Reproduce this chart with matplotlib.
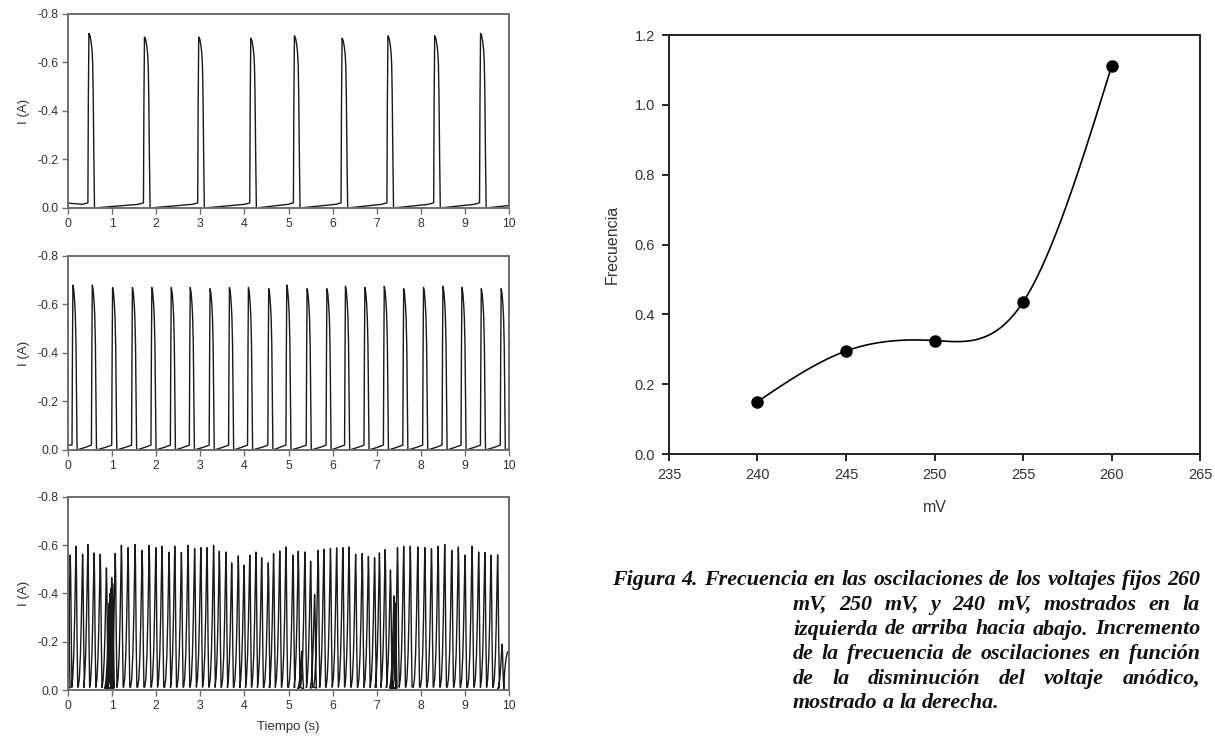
import numpy as np
import matplotlib
matplotlib.use('Agg')
from matplotlib import pyplot as plt

plt.rcParams['font.family'] = ['Liberation Sans', 'DejaVu Sans']
plt.rcParams['axes.unicode_minus'] = False

# ---- panel 1: onset time of each current spike (s) and its peak (A)
p1_onset = [0.45, 1.71, 2.94, 4.12, 5.11, 6.19, 7.23, 8.29, 9.33]
p1_peak = [-0.72, -0.705, -0.705, -0.70, -0.71, -0.70, -0.71, -0.71, -0.72]

# ---- panel 2
p2_onset = [0.09, 0.53, 0.99, 1.44, 1.88, 2.32, 2.75, 3.20, 3.64, 4.07, 4.53, 4.94,
            5.40, 5.85, 6.27, 6.71, 7.15, 7.59, 8.04, 8.48, 8.91, 9.35, 9.80]
p2_peak = [-0.68, -0.68, -0.67, -0.67, -0.67, -0.67, -0.67, -0.665, -0.67, -0.67, -0.665, -0.68,
           -0.665, -0.665, -0.675, -0.67, -0.675, -0.665, -0.67, -0.675, -0.67, -0.665, -0.665]

# ---- panel 3: time of each peak (s) and its value (A)
p3_time = [0.005, 0.05, 0.18, 0.33, 0.45, 0.59, 0.73, 0.87, 0.93, 0.95, 0.97, 0.99, 1.01,
           1.07, 1.21, 1.36, 1.52, 1.68, 1.84, 1.99, 2.13, 2.29,
           2.42, 2.57, 2.72, 2.87, 3.01, 3.15, 3.30, 3.43, 3.58, 3.71, 3.86, 3.99,
           4.12, 4.26, 4.39, 4.54, 4.66, 4.80, 4.94, 5.10, 5.22, 5.30, 5.37, 5.50,
           5.59, 5.67, 5.80, 5.95, 6.09, 6.23, 6.37, 6.52, 6.67, 6.81, 6.95,
           7.06, 7.19, 7.31, 7.39, 7.42, 7.47, 7.61, 7.76, 7.93, 8.09, 8.24,
           8.39, 8.54, 8.70, 8.85, 9.00, 9.16, 9.31, 9.45, 9.59, 9.74, 9.84]
p3_peak = [-0.44, -0.559, -0.596, -0.563, -0.603, -0.568, -0.563, -0.506, -0.36, -0.40, -0.42, -0.466, -0.44,
           -0.566, -0.600, -0.590, -0.603, -0.579, -0.600, -0.590, -0.596, -0.571,
           -0.596, -0.570, -0.600, -0.586, -0.590, -0.590, -0.600, -0.575, -0.572, -0.527, -0.556, -0.517,
           -0.559, -0.572, -0.548, -0.527, -0.565, -0.576, -0.593, -0.559, -0.575, -0.16, -0.572, -0.534,
           -0.396, -0.579, -0.583, -0.586, -0.589, -0.590, -0.593, -0.563, -0.566, -0.554, -0.548,
           -0.568, -0.582, -0.497, -0.39, -0.36, -0.590, -0.596, -0.596, -0.593, -0.590, -0.586,
           -0.596, -0.603, -0.579, -0.593, -0.559, -0.596, -0.572, -0.570, -0.559, -0.56, -0.19]
p3_tail_t = [9.88, 9.90, 9.93, 9.96, 10.0]
p3_tail_i = [-0.01, -0.08, -0.13, -0.155, -0.165]

# ---- frequency vs anodic voltage
volt = [240, 245, 250, 255, 260]
freq = [0.15, 0.295, 0.325, 0.435, 1.11]

caption = [
    'Figura 4. Frecuencia en las oscilaciones de los voltajes fijos 260',
    'mV, 250 mV, y 240 mV, mostrados en la',
    'izquierda de arriba hacia abajo. Incremento',
    'de la frecuencia de oscilaciones en función',
    'de la disminución del voltaje anódico,',
    'mostrado a la derecha.',
]

# spike shapes (time after onset, fraction of the peak)
shape1_t = np.array([0, 0.01, 0.023, 0.05, 0.076, 0.095, 0.108, 0.12, 0.135, 0.15])
shape1_f = np.array([0.03, 0.6, 1.0, 0.985, 0.945, 0.9, 0.83, 0.66, 0.3, 0.0])
shape2_t = np.array([0, 0.01, 0.02, 0.04, 0.06, 0.075, 0.09, 0.105, 0.115])
shape2_f = np.array([0.03, 0.6, 1.0, 0.97, 0.9, 0.82, 0.65, 0.25, 0.0])
shape3_t = np.array([-0.1, -0.075, -0.05, -0.03, -0.012, 0.0, 0.01, 0.025, 0.04])
shape3_f = np.array([0.02, 0.08, 0.25, 0.5, 0.82, 1.0, 0.85, 0.35, 0.02])


def relax_trace(onsets, peaks, sh_t, sh_f, start, creep, end):
    ts, ys = [0.0], [start]
    for on, pk in zip(onsets, peaks):
        if on - 0.12 > ts[-1]:
            ts += [on - 0.12]
            ys += [creep * 0.6]
        ts += list(on + sh_t)
        ys += list(pk * sh_f)
    ts.append(10.0)
    ys.append(end)
    return np.array(ts), np.array(ys)


def pulse_trace(times, peaks, sh_t, sh_f):
    ts, ys = [], []
    for tp, pk in zip(times, peaks):
        ts += list(tp + sh_t)
        ys += list(pk * sh_f)
    return np.array(ts), np.array(ys)


def natural_spline(x, y, n=300):
    x = np.asarray(x, float)
    y = np.asarray(y, float)
    h = np.diff(x)
    m = len(x)
    A = np.zeros((m, m))
    b = np.zeros(m)
    A[0, 0] = A[-1, -1] = 1
    for i in range(1, m - 1):
        A[i, i - 1] = h[i - 1]
        A[i, i] = 2 * (h[i - 1] + h[i])
        A[i, i + 1] = h[i]
        b[i] = 6 * ((y[i + 1] - y[i]) / h[i] - (y[i] - y[i - 1]) / h[i - 1])
    M = np.linalg.solve(A, b)
    xs = np.linspace(x[0], x[-1], n)
    k = np.clip(np.searchsorted(x, xs) - 1, 0, m - 2)
    dx1 = x[k + 1] - xs
    dx0 = xs - x[k]
    hk = h[k]
    ys = (M[k] * dx1 ** 3 + M[k + 1] * dx0 ** 3) / (6 * hk) \
        + (y[k] / hk - M[k] * hk / 6) * dx1 + (y[k + 1] / hk - M[k + 1] * hk / 6) * dx0
    return xs, ys


fig = plt.figure(figsize=(12.15, 7.47), dpi=100)

spine_grey = '#6e6e6e'
trace_col = '#1a1a1a'
boxes = [[0.0560, 0.7216, 0.3630, 0.2597],
         [0.0560, 0.3976, 0.3630, 0.2597],
         [0.0560, 0.0763, 0.3630, 0.2584]]

traces = [
    relax_trace(p1_onset, p1_peak, shape1_t, shape1_f, -0.02, -0.025, -0.01),
    relax_trace(p2_onset, p2_peak, shape2_t, shape2_f, -0.02, -0.02, -0.005),
]
t3, i3 = pulse_trace(p3_time, p3_peak, shape3_t, shape3_f)
traces.append((np.concatenate([t3, p3_tail_t]), np.concatenate([i3, p3_tail_i])))

for idx, (box, (tt, ii)) in enumerate(zip(boxes, traces)):
    ax = fig.add_axes(box)
    ax.plot(tt, ii, color=trace_col, lw=1.0)
    ax.set_xlim(0, 10)
    ax.set_ylim(0.0, -0.8)
    ax.set_xticks(range(0, 11))
    ax.set_yticks([0.0, -0.2, -0.4, -0.6, -0.8])
    ax.set_yticklabels(['0.0', '-0.2', '-0.4', '-0.6', '-0.8'])
    ax.tick_params(direction='out', length=4, width=1.0, color=spine_grey,
                   labelsize=8.8, labelcolor='#333333', pad=3)
    for s in ax.spines.values():
        s.set_color(spine_grey)
        s.set_linewidth(1.4)
    ax.set_ylabel('I (A)', fontsize=9.5, color='#333333', labelpad=5)
    if idx == 2:
        ax.set_xlabel('Tiempo (s)', fontsize=9.5, color='#333333', labelpad=7)

# frequency panel
ax = fig.add_axes([0.5506, 0.3922, 0.4371, 0.5609])
xs, ys = natural_spline(volt, freq)
ax.plot(xs, ys, color='black', lw=1.2)
ax.plot(volt, freq, 'o', color='black', ms=8)
ax.set_xlim(235, 265)
ax.set_ylim(0, 1.2)
ax.set_xticks(range(235, 266, 5))
ax.set_yticks(np.arange(0, 1.21, 0.2))
ax.set_yticklabels([f'{v:.1f}' for v in np.arange(0, 1.21, 0.2)])
ax.tick_params(direction='out', length=5, width=1.2, labelsize=10.5,
               labelcolor='#333333', pad=5)
for s in ax.spines.values():
    s.set_color('#222222')
    s.set_linewidth(1.4)
ax.set_xlabel('mV', fontsize=11.5, color='#333333', labelpad=13)
ax.set_ylabel('Frecuencia', fontsize=11.5, color='#333333', labelpad=11)

# justified caption
W, H = 1215, 747
cap_font = dict(family='Liberation Serif', weight='bold', style='italic', size=15.8, color='#111111')
baselines = [585, 610, 634.5, 659, 684, 708.5]
left_edges = [612, 793, 793, 793, 793, 793]
right_edge = 1200
renderer = fig.canvas.get_renderer()
for line, yb, xl in zip(caption, baselines, left_edges):
    words = line.split(' ')
    objs = [fig.text(0, 1 - yb / H, w, va='baseline', ha='left', **cap_font) for w in words]
    widths = [o.get_window_extent(renderer).width for o in objs]
    if line is caption[-1]:
        sp = fig.text(0, 0, 'a a', **cap_font)
        spw = sp.get_window_extent(renderer).width
        sp.remove()
        gap = spw - 2 * widths[words.index('a')]
    else:
        gap = (right_edge - xl - sum(widths)) / (len(words) - 1)
    x = xl
    for o, w in zip(objs, widths):
        o.set_x(x / W)
        x += w + gap

fig.savefig('out.png', dpi=100)
